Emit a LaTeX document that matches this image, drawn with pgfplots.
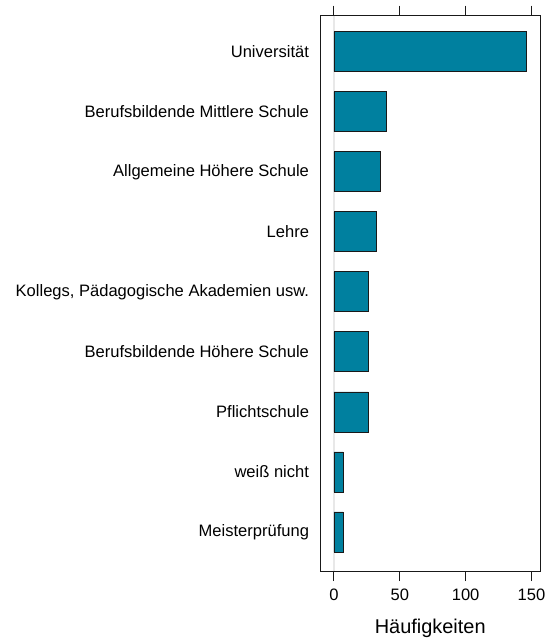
\documentclass[border=0pt]{standalone}
\usepackage{fontspec}
\setmainfont{Liberation Sans}
\usepackage{pgfplots}
\pgfplotsset{compat=1.18}
\definecolor{barc}{HTML}{00809F}
\begin{document}
\begin{tikzpicture}
\useasboundingbox (-320.5bp,-73bp) rectangle (232.5bp,571bp);
\begin{axis}[
 at={(0,0)}, anchor=south west,
 scale only axis, width=219.5bp, height=555.3bp,
 xmin=-10.2, xmax=156.5,
 ymin=0.35, ymax=9.6,
 xtick={0,50,100,150},
 xtick pos=both, xticklabel pos=lower,
 tick align=outside,
 major tick length=10bp,
 ytick={1,...,9},
 yticklabels={Meisterprüfung, weiß nicht, Pflichtschule, Berufsbildende Höhere Schule, {Kollegs, Pädagogische Akademien usw.}, Lehre, Allgemeine Höhere Schule, Berufsbildende Mittlere Schule, Universität},
 y tick style={draw=none},
 y tick label style={xshift=2bp},
 x tick label style={yshift=-4bp},
 /pgf/number format/assume math mode=true,
 tick label style={font=\fontsize{16.6}{19}\selectfont, text=black},
 axis line style={line width=0.9bp, black!90},
 tick style={line width=0.9bp, black!90},
 xlabel={Häufigkeiten},
 x label style={font=\fontsize{20}{24}\selectfont, at={(axis description cs:0.5,0)}, anchor=center, yshift=-57bp},
]
\addplot[gray!18, line width=2bp, forget plot] coordinates {(0,0.35) (0,9.6)};
\addplot[xbar, bar width=40bp, bar shift=0pt, fill=barc, draw=black!90, line width=0.8bp] coordinates {
(7,1) (7,2) (26,3) (26,4) (26,5) (32,6) (35,7) (40,8) (146,9)};
\end{axis}
\end{tikzpicture}
\end{document}
